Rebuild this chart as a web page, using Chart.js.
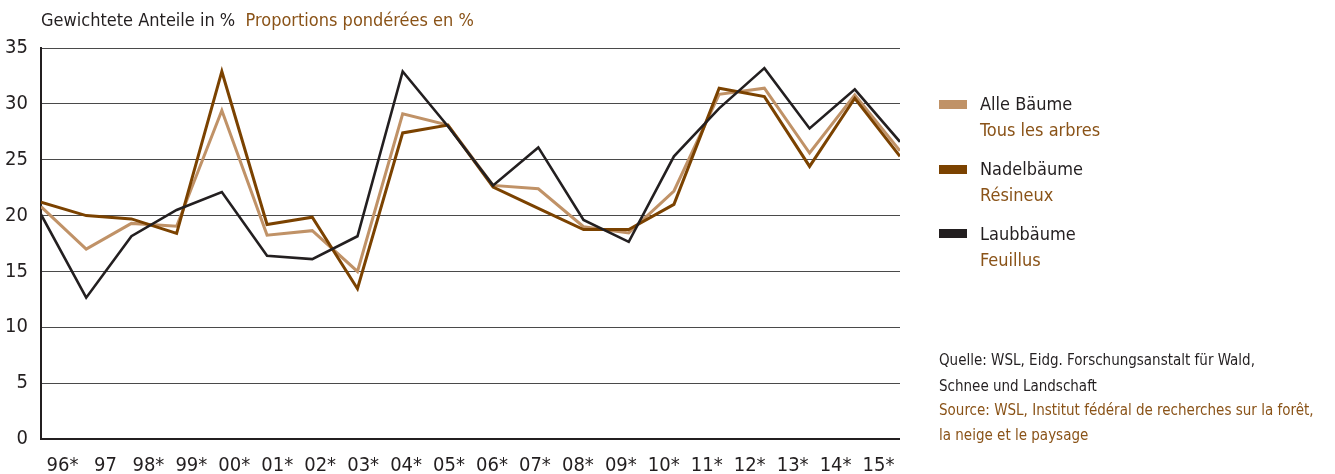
<!DOCTYPE html>
<html>
<head>
<meta charset="utf-8">
<script src="https://cdn.jsdelivr.net/npm/chart.js@4.4.1/dist/chart.umd.min.js"></script>
<style>
  html, body { margin: 0; padding: 0; background: #fff; }
  body { font-family: 'Liberation Sans Narrow', 'DejaVu Sans Condensed', sans-serif; }
  #wrap { position: relative; width: 1335px; height: 474px; overflow: hidden; }
  .t { position: absolute; white-space: nowrap; line-height: 1; color: #231f20; }
  .fr { color: #8a5318; }
  .sw { position: absolute; width: 28px; height: 9px; }
</style>
</head>
<body>
<div id="wrap">
  <canvas id="chart" width="1335" height="474"></canvas>

  <div class="t" style="left:41px;top:11px;font-size:18px;">Gewichtete Anteile in %&nbsp; <span class="fr">Proportions pondérées en %</span></div>

  <div class="sw" style="left:939px;top:100px;background:#c09267;"></div>
  <div class="t" style="left:980px;top:95px;font-size:18px;">Alle Bäume</div>
  <div class="t fr" style="left:980px;top:121px;font-size:18px;">Tous les arbres</div>

  <div class="sw" style="left:939px;top:165px;background:#7b4200;"></div>
  <div class="t" style="left:980px;top:160px;font-size:18px;">Nadelbäume</div>
  <div class="t fr" style="left:980px;top:186px;font-size:18px;">Résineux</div>

  <div class="sw" style="left:939px;top:229px;background:#231f20;"></div>
  <div class="t" style="left:980px;top:225px;font-size:18px;">Laubbäume</div>
  <div class="t fr" style="left:980px;top:251px;font-size:18px;">Feuillus</div>

  <div class="t" style="left:939px;top:353px;font-size:15px;">Quelle: WSL, Eidg. Forschungsanstalt für Wald,</div>
  <div class="t" style="left:939px;top:379px;font-size:15px;">Schnee und Landschaft</div>
  <div class="t fr" style="left:939px;top:403px;font-size:15px;">Source: WSL, Institut fédéral de recherches sur la forêt,</div>
  <div class="t fr" style="left:939px;top:428px;font-size:15px;">la neige et le paysage</div>
</div>

<script>
const years = ['96*', '97', '98*', '99*', '00*', '01*', '02*', '03*', '04*', '05*', '06*', '07*', '08*', '09*', '10*', '11*', '12*', '13*', '14*', '15*']
const alleBaeume = [20.8, 17.0, 19.3, 19.05, 29.4, 18.25, 18.65, 15.0, 29.1, 28.1, 22.7, 22.4, 19.0, 18.45, 22.2, 30.85, 31.4, 25.6, 30.8, 25.8]
const nadelBaeume = [21.2, 20.0, 19.7, 18.4, 32.9, 19.2, 19.85, 13.45, 27.4, 28.1, 22.55, 20.65, 18.75, 18.75, 21.0, 31.4, 30.65, 24.4, 30.5, 25.3]
const laubBaeume = [20.1, 12.65, 18.15, 20.5, 22.1, 16.4, 16.1, 18.15, 32.9, 28.0, 22.7, 26.1, 19.6, 17.65, 25.3, 29.6, 33.2, 27.8, 31.3, 26.6]
const yTicks = [0, 5, 10, 15, 20, 25, 30, 35]

const FONT = "'Liberation Sans Narrow', 'DejaVu Sans Condensed', sans-serif"
const toPoints = arr => arr.map((v, i) => ({ x: i, y: v }))

const line = (label, data, color, order, width) => ({
  label,
  data: toPoints(data),
  borderColor: color,
  backgroundColor: color,
  borderWidth: width,
  pointRadius: 0,
  tension: 0,
  borderJoinStyle: 'miter',
  fill: false,
  order
})

function draw() {
  new Chart(document.getElementById('chart'), {
    type: 'line',
    data: {
      datasets: [
        line('Alle Bäume', alleBaeume, '#c09267', 3, 3),
        line('Nadelbäume', nadelBaeume, '#7b4200', 2, 3),
        line('Laubbäume', laubBaeume, '#231f20', 1, 2.6)
      ]
    },
    options: {
      responsive: false,
      animation: false,
      layout: { padding: { left: 0, right: 435, top: 48, bottom: 0 } },
      plugins: { legend: { display: false }, tooltip: { enabled: false } },
      scales: {
        x: { type: 'linear', min: 0, max: years.length - 1, display: false },
        xl: {
          type: 'category',
          labels: years,
          position: 'bottom',
          offset: true,
          grid: { display: false, drawTicks: false },
          border: { display: false },
          ticks: { color: '#231f20', font: { family: FONT, size: 20 }, padding: 15, autoSkip: false, maxRotation: 0 },
          afterFit: s => { s.height = 35 }
        },
        y: {
          min: 0, max: 35,
          afterBuildTicks: s => { s.ticks = yTicks.map(v => ({ value: v })) },
          grid: {
            drawTicks: false,
            color: c => c.tick && c.tick.value === 0 ? '#231f20' : '#4a4a4a',
            lineWidth: c => c.tick && c.tick.value === 0 ? 2 : 1
          },
          border: { color: '#231f20', width: 2 },
          ticks: { color: '#231f20', font: { family: FONT, size: 20 }, padding: 13 },
          afterFit: s => { s.width = 41 }
        }
      }
    }
  })
}

document.fonts.load("20px 'Liberation Sans Narrow'").then(draw, draw)
</script>
</body>
</html>
